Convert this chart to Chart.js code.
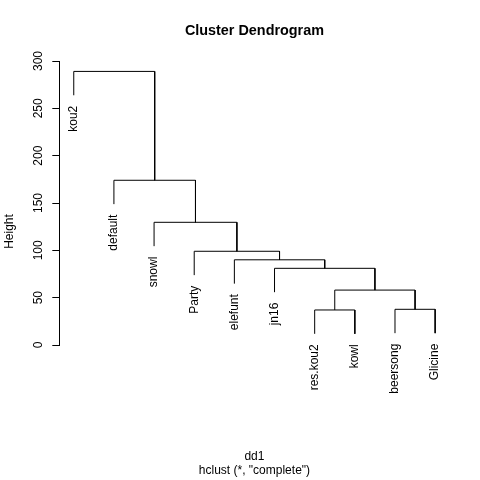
<!DOCTYPE html>
<html>
<head>
<meta charset="utf-8">
<script src="https://cdn.jsdelivr.net/npm/chart.js@4"></script>
<style>
  html, body { margin: 0; padding: 0; background: #fff; }
  #wrap { width: 480px; height: 480px; }
</style>
</head>
<body>
<div id="wrap"><canvas id="c" width="480" height="480"></canvas></div>
<script>
// ---- data ----
const leafLabels = ['kou2', 'default', 'snowl', 'Party', 'elefunt', 'jn16', 'res.kou2', 'kowl', 'beersong', 'Glicine'];
// R-style merge matrix: negative = leaf (1-based index in display order), positive = earlier merge step
const mergeLeft   = [-7, -9, 1, -6, -5, -4, -3, -2, -1];
const mergeRight  = [-8, -10, 2, 3, 4, 5, 6, 7, 8];
const mergeHeight = [37, 37.7, 58, 81, 90, 99, 129.6, 174, 289];
const hangFraction = 0.1;
const yTickMin = 0, yTickMax = 300, yTickStep = 50;
const titleText = 'Cluster Dendrogram';
const yAxisTitle = 'Height';
const xAxisTitle = 'dd1';
const subTitle = 'hclust (*, "complete")';

// ---- build segments from the tree ----
const hMax = Math.max(...mergeHeight), hMin = Math.min(...mergeHeight);
const hang = hangFraction * (hMax - hMin);
const nodeX = [];
const leafBottom = new Array(leafLabels.length).fill(0);
function childX(c) { return c < 0 ? (-c) : nodeX[c - 1]; }
const datasets = [];
for (let k = 0; k < mergeHeight.length; k++) {
  const l = mergeLeft[k], r = mergeRight[k], h = mergeHeight[k];
  const xl = childX(l), xr = childX(r);
  nodeX[k] = (xl + xr) / 2;
  const yl = l < 0 ? h - hang : mergeHeight[l - 1];
  const yr = r < 0 ? h - hang : mergeHeight[r - 1];
  if (l < 0) leafBottom[-l - 1] = yl;
  if (r < 0) leafBottom[-r - 1] = yr;
  datasets.push({
    data: [{x: xl, y: yl}, {x: xl, y: h}, {x: xr, y: h}, {x: xr, y: yr}],
    showLine: true, borderColor: '#000', borderWidth: 1, pointRadius: 0, tension: 0, fill: false
  });
}

const FONT = "'Liberation Sans', Arial, Helvetica, sans-serif";
Chart.defaults.font.family = FONT;
Chart.defaults.color = '#000';

const textPlugin = {
  id: 'dendroText',
  afterDraw(chart) {
    const ctx = chart.ctx;
    const xs = chart.scales.x, ys = chart.scales.y;
    ctx.save();
    ctx.fillStyle = '#000';
    ctx.font = '12px ' + FONT;
    // leaf labels (rotated, hanging below each leaf)
    leafLabels.forEach((lab, i) => {
      const px = xs.getPixelForValue(i + 1);
      const py = ys.getPixelForValue(leafBottom[i]) + 10.5;
      ctx.save();
      ctx.translate(px, py);
      ctx.rotate(-Math.PI / 2);
      ctx.textAlign = 'right';
      ctx.textBaseline = 'middle';
      ctx.fillText(lab, 0, 0);
      ctx.restore();
    });
    // y axis title
    ctx.save();
    ctx.translate(9.5, 231.5);
    ctx.rotate(-Math.PI / 2);
    ctx.textAlign = 'center';
    ctx.textBaseline = 'middle';
    ctx.fillText(yAxisTitle, 0, 0);
    ctx.restore();
    // bottom labels
    const cx = (chart.chartArea.left + chart.chartArea.right) / 2;
    ctx.textAlign = 'center';
    ctx.textBaseline = 'alphabetic';
    ctx.fillText(xAxisTitle, cx, 459.5);
    ctx.fillText(subTitle, cx, 474);
    ctx.restore();
  }
};

new Chart(document.getElementById('c'), {
  type: 'scatter',
  data: { datasets },
  options: {
    responsive: false,
    animation: false,
    events: [],
    layout: { padding: { left: 0, right: 30.4, top: 0, bottom: 135 } },
    plugins: {
      legend: { display: false },
      tooltip: { enabled: false },
      title: {
        display: true, text: titleText, fullSize: false, color: '#000',
        font: { size: 14.4, weight: 'bold', family: FONT, lineHeight: 1.2 },
        padding: { top: 22.76, bottom: 20.96 }
      }
    },
    scales: {
      x: { type: 'linear', min: 0.64, max: 10.36, display: false },
      y: {
        type: 'linear', position: 'left', min: yTickMin, max: yTickMax,
        ticks: { stepSize: yTickStep, minRotation: 90, maxRotation: 90, crossAlign: 'center',
                 padding: 4, color: '#000', font: { size: 12, family: FONT } },
        grid: { drawOnChartArea: false, drawTicks: true, tickLength: 7, color: '#000', lineWidth: 1 },
        border: { display: true, color: '#000', width: 1 },
        afterFit(s) { s.width = 59.3; }
      }
    }
  },
  plugins: [textPlugin]
});
</script>
</body>
</html>
